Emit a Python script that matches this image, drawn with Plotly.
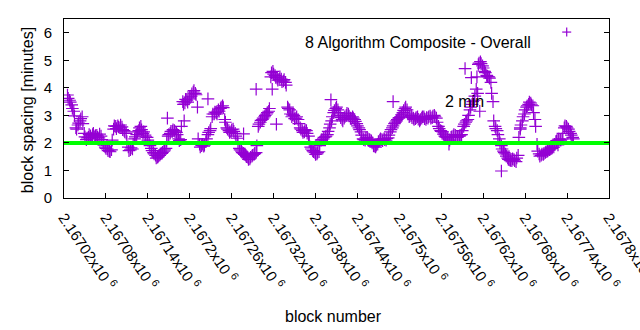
import plotly.graph_objects as go

# Block spacing (minutes). Two interleaved sample sets: blocks
# first_block + 3*i and first_block + 1 + 3*i.
first_block = 2167025
block_step = 3
spacing_min = [
    3.74, 3.55, 3.38, 3.15, 2.55, 2.65, 2.80, 2.95, 2.35, 2.12,
    2.20, 2.26, 2.30, 2.22, 2.28, 2.18, 2.25, 2.05, 1.85, 1.78,
    1.70, 1.75, 2.50, 2.60, 2.62, 2.55, 2.58, 2.45, 2.35, 1.85,
    1.75, 1.78, 2.15, 2.30, 2.45, 2.60, 2.35, 2.28, 2.20, 1.98,
    1.80, 1.65, 1.55, 1.48, 1.55, 1.62, 1.70, 1.80, 2.25, 2.35,
    2.42, 2.45, 2.38, 2.15, 2.12, 3.50, 3.45, 3.55, 3.60, 3.70,
    3.85, 3.80, 3.30, 1.95, 1.90, 1.88, 2.05, 2.30, 2.45, 2.95,
    3.05, 3.10, 3.20, 3.25, 3.35, 2.85, 2.55, 2.45, 2.40, 2.50,
    2.35, 2.17, 1.80, 1.70, 1.62, 1.55, 1.48, 1.42, 1.52, 1.58,
    1.65, 2.60, 2.75, 2.85, 2.95, 3.05, 3.15, 4.40, 4.60, 4.45,
    4.35, 4.30, 4.32, 4.25, 4.20, 3.30, 3.20, 2.95, 3.00, 2.90,
    2.85, 2.55, 2.45, 2.40, 2.45, 2.25, 1.85, 1.72, 1.65, 1.60,
    1.68, 2.10, 2.15, 2.22, 2.30, 2.55, 2.80, 3.10, 3.25, 3.20,
    3.00, 2.85, 2.90, 3.00, 3.05, 2.90, 2.95, 2.85, 2.70, 2.55,
    2.40, 2.15, 2.10, 2.20, 2.12, 2.08, 1.90, 1.85, 1.95, 2.10,
    2.12, 2.15, 2.10, 2.18, 2.40, 2.55, 2.70, 2.80, 2.90, 2.95,
    3.10, 3.25, 3.20, 2.95, 3.00, 2.90, 2.88, 2.95, 2.80, 2.90,
    2.95, 2.85, 2.90, 2.98, 2.92, 3.00, 2.90, 2.60, 2.45, 2.40,
    2.25, 2.20, 1.95, 2.20, 2.25, 2.28, 2.20, 2.25, 2.30, 2.60,
    2.75, 2.85, 3.20, 3.40, 3.55, 3.95, 4.85, 4.95, 4.80, 4.60,
    4.45, 4.40, 4.20, 3.50, 2.60, 2.45, 2.15, 1.90, 1.70, 1.60,
    1.45, 1.38, 1.35, 1.40, 1.32, 1.55, 2.55, 2.80, 3.05, 3.30,
    3.40, 3.45, 3.35, 2.85, 1.95, 1.60, 1.55, 1.58, 1.65, 1.70,
    1.75, 1.80, 1.85, 2.05, 2.10, 2.12, 2.15, 2.55, 2.60, 2.50,
    2.35, 2.20,
]
spacing_min_next = [
    3.62, 3.48, 3.25, 2.98, 2.50, 2.72, 2.88, 2.70, 2.22, 2.18,
    2.30, 2.18, 2.35, 2.27, 2.20, 2.32, 2.12, 1.92, 1.80, 1.72,
    1.68, 2.10, 2.62, 2.52, 2.58, 2.65, 2.48, 2.40, 2.05, 1.72,
    1.82, 1.95, 2.22, 2.40, 2.55, 2.48, 2.40, 2.22, 2.10, 1.90,
    1.72, 1.60, 1.45, 1.52, 1.60, 1.66, 1.75, 2.05, 2.30, 2.42,
    2.48, 2.40, 2.30, 2.08, 2.60, 3.40, 3.58, 3.48, 3.66, 3.78,
    3.90, 3.75, 2.15, 1.85, 1.95, 1.92, 2.15, 2.38, 2.52, 3.05,
    3.12, 3.05, 3.15, 3.30, 3.28, 2.75, 2.50, 2.38, 2.48, 2.42,
    2.25, 2.00, 1.75, 1.65, 1.58, 1.50, 1.40, 1.48, 1.55, 1.62,
    1.90, 2.68, 2.82, 2.90, 3.00, 3.10, 3.25, 4.55, 4.50, 4.38,
    4.28, 4.40, 4.22, 4.30, 4.10, 3.25, 3.05, 3.02, 2.88, 2.95,
    2.70, 2.50, 2.38, 2.48, 2.35, 2.05, 1.78, 1.68, 1.58, 1.65,
    1.90, 2.12, 2.20, 2.25, 2.42, 2.68, 2.95, 3.18, 3.30, 3.10,
    2.92, 2.80, 2.95, 3.08, 2.98, 2.88, 2.90, 2.78, 2.62, 2.48,
    2.28, 2.12, 2.18, 2.15, 2.10, 2.00, 1.88, 1.92, 2.05, 2.15,
    2.08, 2.12, 2.16, 2.28, 2.48, 2.62, 2.75, 2.85, 2.92, 3.02,
    3.18, 3.30, 3.05, 2.98, 2.92, 2.85, 2.92, 2.86, 2.85, 2.95,
    2.88, 2.92, 2.95, 2.90, 2.98, 2.95, 2.75, 2.52, 2.42, 2.32,
    2.22, 2.15, 2.10, 2.22, 2.30, 2.22, 2.24, 2.28, 2.45, 2.68,
    2.80, 3.00, 3.30, 3.50, 3.70, 4.40, 4.90, 4.88, 4.72, 4.55,
    4.42, 4.35, 3.80, 2.80, 2.52, 2.30, 2.00, 1.78, 1.65, 1.52,
    1.40, 1.36, 1.42, 1.35, 1.45, 2.20, 2.65, 2.95, 3.20, 3.35,
    3.48, 3.38, 3.10, 2.60, 1.70, 1.52, 1.60, 1.62, 1.68, 1.74,
    1.78, 1.84, 1.95, 2.08, 2.14, 2.10, 2.35, 2.62, 2.55, 2.42,
    2.28, 2.15,
]
blocks_a = [first_block + block_step * i for i in range(len(spacing_min))]
blocks_b = [first_block + 1 + block_step * i for i in range(len(spacing_min_next))]

# Isolated samples away from the main trend
extra_blocks = [2167168, 2167192, 2167226, 2167277, 2167295, 2167318,
                2167324, 2167402, 2167491, 2167594, 2167603, 2167612,
                2167615, 2167646, 2167673, 2167727]
extra_spacing = [2.90, 2.80, 3.60, 2.33, 3.95, 3.95,
                 2.68, 3.57, 3.50, 4.70, 4.37, 3.80,
                 3.15, 0.98, 2.50, 1.93]

target_minutes = 2.0
x_range = [2167020, 2167800]
tick_values = list(range(2167020, 2167801, 60))
tick_labels = ["2.16702", "2.16708", "2.16714", "2.1672", "2.16726",
               "2.16732", "2.16738", "2.16744", "2.1675", "2.16756",
               "2.16762", "2.16768", "2.16774", "2.1678"]

PURPLE = "#9400D3"
GREEN = "#00FF00"
FONT = "Liberation Sans"

fig = go.Figure()
fig.add_trace(go.Scatter(
    x=blocks_a + blocks_b + extra_blocks,
    y=spacing_min + spacing_min_next + extra_spacing,
    mode="markers",
    marker=dict(symbol="cross-thin", size=9,
                line=dict(width=1.2, color=PURPLE)),
    showlegend=False,
))
fig.add_trace(go.Scatter(
    x=x_range, y=[target_minutes, target_minutes],
    mode="lines", line=dict(color=GREEN, width=4),
    showlegend=False,
))

fig.update_layout(
    width=640, height=330,
    margin=dict(l=64, r=31, t=19, b=132, autoexpand=False),
    plot_bgcolor="white", paper_bgcolor="white",
    font=dict(family=FONT, size=15, color="black"),
    xaxis=dict(
        range=x_range, tickvals=tick_values,
        ticktext=[t + "x10 <sup>6</sup>" for t in tick_labels],
        tickangle=56, ticks="inside", ticklen=5, tickcolor="black",
        showline=True, linecolor="black", linewidth=1, mirror=True,
        showgrid=False, zeroline=False, ticklabelstandoff=4,
        ticklabeloverflow="allow", automargin=False,
    ),
    yaxis=dict(
        range=[0, 6.5], tickvals=[0, 1, 2, 3, 4, 5, 6],
        ticks="inside", ticklen=5, tickcolor="black",
        showline=True, linecolor="black", linewidth=1, mirror="ticks",
        showgrid=False, zeroline=False, ticklabelstandoff=8,
        automargin=False,
    ),
)

fig.add_annotation(text="2 min", x=2167593, y=3.5, xref="x", yref="y",
                   showarrow=False, font=dict(size=16))
fig.add_annotation(text="block number", x=0.495, y=-0.72,
                   xref="paper", yref="paper", showarrow=False,
                   font=dict(size=16))
fig.add_annotation(text="block spacing [minutes]", x=-0.0868, y=0.4916,
                   xref="paper", yref="paper", showarrow=False,
                   textangle=-90, font=dict(size=16))

# Key: right-aligned title with its marker sample to the right
fig.add_annotation(text="8 Algorithm Composite - Overall", x=0.86, y=0.927,
                   xref="paper", yref="paper", xanchor="right",
                   showarrow=False, font=dict(size=16))
key_x, key_y = 0.9224, 0.927
for dx0, dx1, dy0, dy1 in [(-4.5, 4.5, 0, 0), (0, 0, -4.5, 4.5)]:
    fig.add_shape(type="line", xref="paper", yref="paper",
                  xsizemode="pixel", ysizemode="pixel",
                  xanchor=key_x, yanchor=key_y,
                  x0=dx0, x1=dx1, y0=dy0, y1=dy1,
                  line=dict(color=PURPLE, width=1.2))

fig.write_html("out.html")
